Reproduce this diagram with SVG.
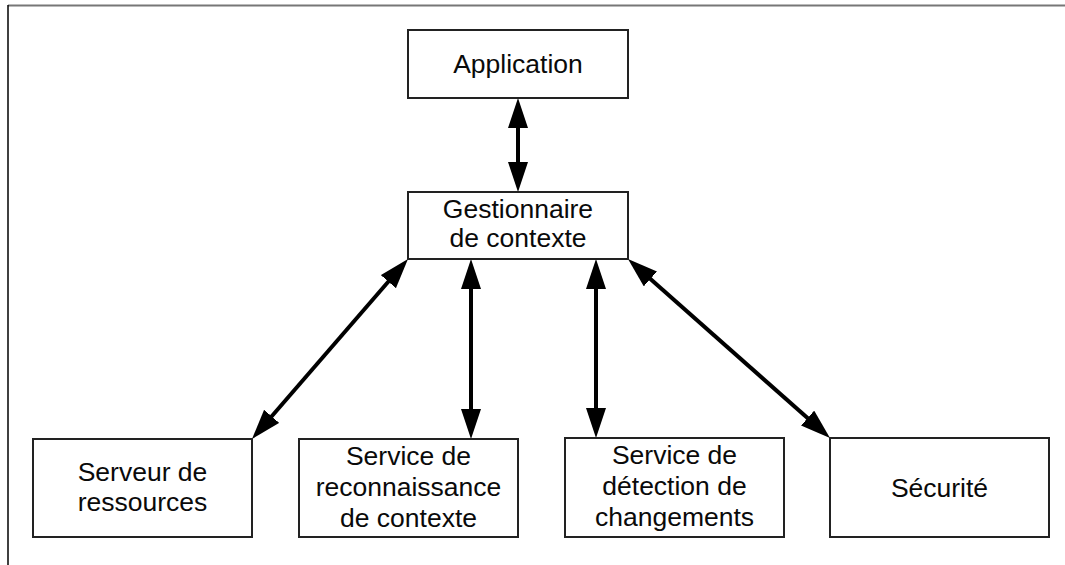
<svg xmlns="http://www.w3.org/2000/svg" width="1065" height="565" viewBox="0 0 1065 565">
  <defs>
    <style>
      .box { fill: #ffffff; stroke: #222222; stroke-width: 2; }
      .lbl { font-family: "Liberation Sans", Arial, sans-serif; font-size: 26.5px; fill: #0a0a0a; text-anchor: middle; }
      .conn { stroke: #000000; stroke-width: 4; fill: none; marker-start: url(#arrow); marker-end: url(#arrow); }
    </style>
    <marker id="arrow" markerUnits="userSpaceOnUse" markerWidth="30" markerHeight="20" refX="20" refY="10" orient="auto-start-reverse" viewBox="0 0 30 20">
      <path d="M0,0 L30,10 L0,20 z" fill="#000000"/>
    </marker>
  </defs>
  <rect x="0" y="0" width="1065" height="565" fill="#ffffff"/>
  <g id="frame">
    <line x1="8" y1="5.5" x2="1065" y2="5.5" stroke="#777777" stroke-width="2"/>
    <line x1="8" y1="5" x2="8" y2="565" stroke="#000000" stroke-width="1.5"/>
  </g>
  <g id="connectors">
    <line class="conn" x1="518" y1="108" x2="518" y2="182"/>
    <line class="conn" x1="401.45" y1="266.56" x2="258.55" y2="431.44"/>
    <line class="conn" x1="471" y1="269" x2="471" y2="429"/>
    <line class="conn" x1="596" y1="269" x2="596" y2="428"/>
    <line class="conn" x1="635.48" y1="265.63" x2="822.52" y2="431.37"/>
  </g>
  <g id="application">
    <rect class="box" x="408" y="30" width="220" height="68"/>
    <text class="lbl" x="518" y="73">Application</text>
  </g>
  <g id="gestionnaire">
    <rect class="box" x="408" y="192" width="220" height="67"/>
    <text class="lbl" x="518" y="218">Gestionnaire</text>
    <text class="lbl" x="518" y="247">de contexte</text>
  </g>
  <g id="serveur">
    <rect class="box" x="33" y="439" width="219" height="98"/>
    <text class="lbl" x="142.5" y="481">Serveur de</text>
    <text class="lbl" x="142.5" y="511">ressources</text>
  </g>
  <g id="reconnaissance">
    <rect class="box" x="299" y="439" width="219" height="98"/>
    <text class="lbl" x="408.5" y="465">Service de</text>
    <text class="lbl" x="408.5" y="496">reconnaissance</text>
    <text class="lbl" x="408.5" y="527">de contexte</text>
  </g>
  <g id="detection">
    <rect class="box" x="565" y="438" width="219" height="99"/>
    <text class="lbl" x="674.5" y="464">Service de</text>
    <text class="lbl" x="674.5" y="495">détection de</text>
    <text class="lbl" x="674.5" y="526">changements</text>
  </g>
  <g id="securite">
    <rect class="box" x="830" y="438" width="219" height="99"/>
    <text class="lbl" x="939.5" y="497">Sécurité</text>
  </g>
</svg>
